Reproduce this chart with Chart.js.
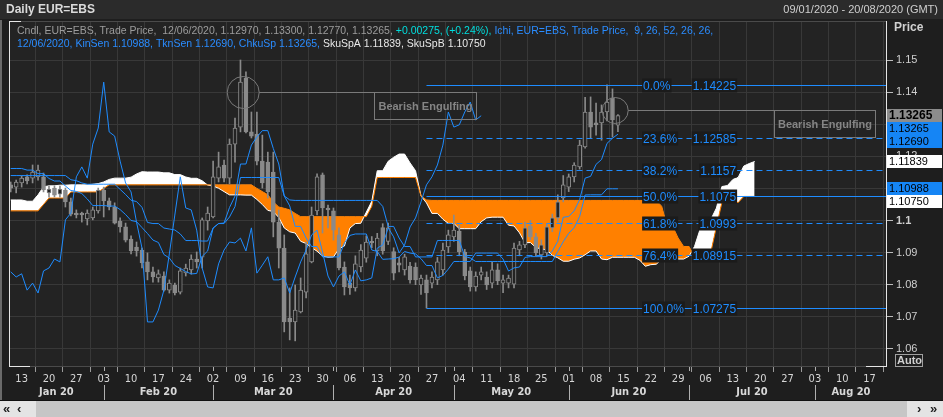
<!DOCTYPE html>
<html>
<head>
<meta charset="utf-8">
<script src="https://cdn.jsdelivr.net/npm/chart.js@4.4.1/dist/chart.umd.min.js"></script>
<style>
html, body { margin: 0; padding: 0; background: #1e1e1e; }
canvas { display: block; }
</style>
</head>
<body>
<canvas id="chart" width="943" height="417"></canvas>
<script>
// Daily EUR=EBS, 09/01/2020 - 20/08/2020, bar index 0 = 9 Jan 2020 (weekdays only)
var weekStarts = [2,7,12,17,22,27,32,37,42,47,52,57,62,67,72,77,82,87,92,97,102,107,112,117,122,127,132,137,142,147,152,157];
var weekLabels = ['13','20','27','03','10','17','24','02','09','16','23','30','06','13','20','27','04','11','18','25','01','08','15','22','29','06','13','20','27','03','10','17'];
var monthStarts = [17,37,59,81,102,124,147];
var monthLabels = ['Jan 20','Feb 20','Mar 20','Apr 20','May 20','Jun 20','Jul 20','Aug 20'];
var priceTicks = [1.06,1.07,1.08,1.09,1.10,1.11,1.12,1.13,1.14,1.15];

var opens = [1.1111,1.1104,1.1117,1.1136,1.1132,1.1136,1.1136,1.1086,1.1101,1.1082,
  1.1095,1.1058,1.1023,1.1023,1.1005,1.1008,1.1030,1.1095,1.1061,1.1042,
  1.0998,1.0980,1.0942,1.0917,1.0908,1.0871,1.0840,1.0821,1.0827,1.0783,
  1.0799,1.0777,1.0837,1.0846,1.0880,1.0886,1.0999,1.1011,1.1132,1.1173,
  1.1132,1.1238,1.1291,1.1444,1.1276,1.1269,1.1185,1.1182,1.1151,1.0995,
  1.0914,1.0696,1.0684,1.0715,1.0777,1.0871,1.1030,1.1142,1.1039,1.1030,
  1.0955,1.0855,1.0805,1.0790,1.0855,1.0883,1.0935,1.0905,1.0978,1.0935,
  1.0903,1.0868,1.0846,1.0858,1.0855,1.0799,1.0815,1.0805,1.0815,1.0846,
  1.0918,1.0949,1.0967,1.0902,1.0843,1.0793,1.0830,1.0824,1.0805,1.0846,
  1.0805,1.0805,1.0802,1.0908,1.0924,1.0983,1.0949,1.0893,1.0899,1.0977,
  1.1008,1.1070,1.1104,1.1136,1.1167,1.1229,1.1338,1.1304,1.1304,1.1338,
  1.1381,1.1297];
var highs = [1.1120,1.1126,1.1139,1.1142,1.1173,1.1173,1.1148,1.1107,1.1107,1.1107,
  1.1101,1.1070,1.1033,1.1026,1.1033,1.1042,1.1101,1.1104,1.1070,1.1055,
  1.1008,1.0992,1.0952,1.0933,1.0914,1.0899,1.0855,1.0846,1.0840,1.0815,
  1.0805,1.0852,1.0864,1.0893,1.0902,1.1008,1.1042,1.1185,1.1213,1.1188,
  1.1254,1.1319,1.1500,1.1463,1.1338,1.1338,1.1266,1.1213,1.1213,1.1033,
  1.0955,1.0790,1.0799,1.0821,1.0933,1.1042,1.1145,1.1148,1.1048,1.1039,
  1.0977,1.0871,1.0830,1.0890,1.0925,1.0952,1.0950,1.0960,1.0990,1.0992,
  1.0915,1.0885,1.0895,1.0870,1.0868,1.0830,1.0830,1.0840,1.0885,1.0930,
  1.0970,1.1017,1.0985,1.0910,1.0855,1.0840,1.0855,1.0840,1.0870,1.0865,
  1.0830,1.0830,1.0930,1.0935,1.0995,1.1000,1.0960,1.0940,1.0990,1.1020,
  1.1080,1.1140,1.1145,1.1180,1.1250,1.1384,1.1385,1.1366,1.1360,1.14225,
  1.1410,1.1330];
var lows = [1.1089,1.1086,1.1104,1.1114,1.1117,1.1126,1.1089,1.1073,1.1073,1.1073,
  1.1042,1.1014,1.1008,1.0995,1.0986,1.1002,1.1023,1.1011,1.1033,1.0989,
  1.0964,1.0933,1.0896,1.0889,1.0852,1.0815,1.0808,1.0808,1.0780,1.0774,
  1.0768,1.0771,1.0827,1.0833,1.0852,1.0852,1.0970,1.1008,1.1120,1.1120,
  1.1114,1.1182,1.1276,1.1273,1.1257,1.1173,1.1101,1.1070,1.0949,1.0852,
  1.0653,1.0628,1.0625,1.0712,1.0759,1.0868,1.1017,1.0961,1.0977,1.0939,
  1.0846,1.0768,1.0770,1.0780,1.0840,1.0870,1.0915,1.0890,1.0895,1.0925,
  1.0815,1.0840,1.0830,1.0805,1.0800,1.0770,1.07275,1.0790,1.0800,1.0830,
  1.0900,1.0935,1.0890,1.0815,1.0780,1.0780,1.0815,1.0785,1.0790,1.0800,
  1.0775,1.0790,1.0790,1.0890,1.0915,1.0940,1.0890,1.0880,1.0890,1.0965,
  1.0995,1.1058,1.1090,1.1120,1.1160,1.1225,1.1255,1.1266,1.1250,1.1310,
  1.1260,1.1277];
var closes = [1.1101,1.1120,1.1132,1.1123,1.1151,1.1157,1.1095,1.1098,1.1079,1.1098,
  1.1058,1.1020,1.1017,1.1017,1.1023,1.1033,1.1095,1.1061,1.1042,1.0992,
  1.0980,1.0939,1.0905,1.0905,1.0868,1.0840,1.0824,1.0834,1.0783,1.0805,
  1.0774,1.0843,1.0852,1.0880,1.0871,1.1002,1.1023,1.1136,1.1167,1.1132,
  1.1238,1.1288,1.1431,1.1276,1.1263,1.1185,1.1117,1.1089,1.0995,1.0914,
  1.0684,1.0684,1.0721,1.0783,1.0896,1.1017,1.1136,1.1039,1.1033,1.0970,
  1.0852,1.0793,1.0790,1.0865,1.0908,1.0933,1.0930,1.0945,1.0905,1.0977,
  1.0836,1.0861,1.0887,1.0815,1.0815,1.0821,1.0774,1.0824,1.0871,1.0908,
  1.0955,1.0970,1.0902,1.0827,1.0793,1.0827,1.0840,1.0799,1.0846,1.0812,
  1.0815,1.0821,1.0914,1.0924,1.0977,1.0949,1.0899,1.0924,1.0980,1.1008,
  1.1058,1.1111,1.1136,1.1173,1.1235,1.1338,1.1291,1.1298,1.1338,1.1369,
  1.1313,1.13265];

// Ichimoku (9, 26, 52, 26, 26) as drawn
var tenkan = [1.1162,1.1162,1.1162,1.1157,1.1157,1.1146,1.1146,1.1131,1.1123,1.1123,
  1.11075,1.10935,1.10905,1.1084,1.1067,1.10465,1.10465,1.10465,1.1045,1.1045,
  1.1034,1.10185,1.1000,1.09965,1.0978,1.09595,1.0939,1.09315,1.0894,1.0883,
  1.0860,1.08505,1.0841,1.08335,1.0835,1.0888,1.0905,1.09765,1.09905,1.0992,
  1.10405,1.1076,1.1176,1.1176,1.1235,1.1260,1.1280,1.1280,1.12245,1.1176,
  1.10765,1.10455,1.09815,1.09815,1.09455,1.0919,1.0919,1.08865,1.08865,1.08865,
  1.08865,1.0930,1.09535,1.0958,1.0958,1.0958,1.0908,1.09035,1.0879,1.0880,
  1.0881,1.0886,1.09035,1.08985,1.0896,1.0881,1.08598,1.08598,1.08213,1.08288,
  1.08488,1.08723,1.08723,1.08723,1.08723,1.08985,1.08985,1.08985,1.08985,1.08985,
  1.0880,1.08425,1.08525,1.0855,1.0885,1.08875,1.08875,1.08875,1.08875,1.0905,
  1.0935,1.1010,1.10125,1.1030,1.1065,1.1132,1.11375,1.1175,1.119,1.12403,
  1.12563,1.1269];
var kijun = [1.1140,1.1140,1.1140,1.1140,1.1140,1.1140,1.1140,1.1140,1.1140,1.1140,
  1.1140,1.1127,1.1124,1.1117,1.1113,1.1113,1.1113,1.1113,1.1113,1.1113,
  1.1097,1.1081,1.1063,1.1059,1.1041,1.0994,1.09905,1.09905,1.09765,1.09735,
  1.09705,1.0958,1.09375,1.09375,1.09375,1.0936,1.0936,1.09765,1.09905,1.09905,
  1.1011,1.10435,1.1134,1.1134,1.1134,1.1134,1.1134,1.1134,1.1134,1.1134,
  1.10765,1.1064,1.10625,1.10625,1.10625,1.10625,1.10625,1.10625,1.10625,1.10625,
  1.10625,1.10625,1.10625,1.10625,1.10625,1.10625,1.10625,1.10625,1.1044,1.09815,
  1.09815,1.09455,1.0919,1.0919,1.08865,1.08865,1.08865,1.08865,1.09378,1.09378,
  1.09378,1.09378,1.09378,1.08878,1.08833,1.08723,1.08723,1.08723,1.08723,1.08723,
  1.08723,1.08723,1.08723,1.08723,1.08723,1.08723,1.08723,1.08723,1.08723,1.08723,
  1.09038,1.09338,1.096,1.09775,1.10125,1.10795,1.108,1.108,1.108,1.10988,
  1.10988,1.10988];
var spanA = [1.1064,1.1064,1.1064,1.1060,1.1060,1.1080,1.1105,1.1108,1.1108,1.1110,
  1.1110,1.1111,1.1111,1.1111,1.1111,1.1113,1.1115,1.1120,1.1128,1.1132,
  1.1132,1.1132,1.1135,1.1145,1.1152,1.1151,1.1151,1.1151,1.11485,1.11485,
  1.1143,1.1143,1.11355,1.11315,1.11315,1.11238,1.11103,1.11073,1.11005,1.109,
  1.10798,1.10798,1.10798,1.1079,1.1079,1.10655,1.10498,1.10315,1.10278,1.10095,
  1.09768,1.09648,1.0961,1.09353,1.09283,1.09153,1.09043,1.08893,1.08855,1.08863,
  1.0912,1.09205,1.09765,1.09905,1.09913,1.10258,1.10598,1.1155,1.1155,1.11845,
  1.1197,1.1207,1.1207,1.11793,1.1155,1.10765,1.10548,1.1022,1.1022,1.1004,
  1.09908,1.09908,1.09745,1.09745,1.09745,1.09745,1.09963,1.1008,1.10103,1.10103,
  1.10103,1.09853,1.0983,1.09615,1.09308,1.09313,1.09158,1.09113,1.09088,1.08913,
  1.08838,1.08731,1.08731,1.08795,1.08833,1.08933,1.0905,1.0905,1.088,1.08778,
  1.08854,1.08854,1.08854,1.08854,1.08854,1.08762,1.08574,1.08624,1.08637,1.08787,
  1.08799,1.08799,1.08799,1.08799,1.08887,1.09194,1.09719,1.09863,1.10038,1.10388,
  1.11058,1.11088,1.11275,1.1135,1.11695,1.11775,1.11839];
var spanB = [1.1030,1.1030,1.1030,1.1030,1.1030,1.1030,1.1050,1.1070,1.1070,1.1070,
  1.1070,1.1089,1.1089,1.1089,1.1089,1.1089,1.1089,1.1100,1.1111,1.1111,
  1.1111,1.1111,1.1111,1.1111,1.1111,1.1111,1.1111,1.1111,1.1111,1.1111,
  1.1111,1.1111,1.1111,1.1111,1.1111,1.1111,1.1111,1.1111,1.1111,1.1111,
  1.1111,1.1111,1.1111,1.1111,1.1111,1.1100,1.1090,1.1080,1.1058,1.1042,
  1.1038,1.1033,1.1022,1.1012,1.1012,1.1012,1.1012,1.1012,1.1012,1.1012,
  1.1012,1.1012,1.1012,1.1012,1.1012,1.1012,1.1044,1.1134,1.1134,1.1134,
  1.1134,1.1134,1.1134,1.1134,1.1134,1.10765,1.1064,1.10625,1.10625,1.10625,
  1.10625,1.10625,1.10625,1.10625,1.10625,1.10625,1.10625,1.10625,1.10625,1.10625,
  1.10625,1.10625,1.10625,1.10625,1.10625,1.10625,1.10625,1.10625,1.10625,1.10625,
  1.10625,1.10625,1.10625,1.10625,1.10625,1.10625,1.10625,1.10625,1.10625,1.10625,
  1.10625,1.10625,1.10625,1.10625,1.10625,1.10625,1.10625,1.10625,1.10625,1.1044,
  1.09815,1.09815,1.09455,1.0919,1.0919,1.08865,1.08865,1.08865,1.09025,1.0981,
  1.10558,1.10563,1.10563,1.10563,1.1075,1.1075,1.1075];
var chikouShift = 25;

// Fibonacci retracement, 100% low to 0% high
var fibPcts = ['0.0%','23.6%','38.2%','50.0%','61.8%','76.4%','100.0%'];
var fibLevels = [1.14225,1.12585,1.1157,1.1075,1.0993,1.08915,1.07275];
var fibDashed = [false,true,true,false,true,true,false];
var fibStartBar = 76;

// candle patterns
var patternBars = [42.5, 110.5];
var patternPrices = [1.1401, 1.1344];
var patternNames = ['Bearish Engulfing', 'Bearish Engulfing'];

var lastDate = '12/06/2020';
var lastChange = '+0.00275, (+0.24%), ';

var plotBg = '#232323';
var gridColor = '#383838';
var candleGray = '#8a8a8a';
var lineBlue = '#1e8cff';
var tagBlue = '#1585f5';
var cloudOrange = '#ff8000';
var fontFamily = "'Liberation Sans', Arial, sans-serif";
var narrowFamily = "'Liberation Sans Narrow', 'DejaVu Sans Condensed', 'Liberation Sans', sans-serif";

var last = closes.length - 1;

function pts(arr, shift) {
  return arr.map(function (v, i) { return { x: i - (shift || 0), y: v }; });
}

function drawRuns(c, x, y, parts) {
  parts.forEach(function (p) {
    c.fillStyle = p[1];
    c.fillText(p[0], x, y);
    x += c.measureText(p[0]).width;
  });
}

var decor = {
  id: 'decor',
  beforeDraw: function (chart) {
    var c = chart.ctx, a = chart.chartArea;
    c.save();
    c.fillStyle = '#1e1e1e';
    c.fillRect(0, 0, chart.width, chart.height);
    c.fillStyle = '#2b2b2b';
    c.fillRect(0, 0, chart.width, 19);
    c.fillStyle = plotBg;
    c.fillRect(a.left, a.top, a.right - a.left, a.bottom - a.top);
    c.restore();
  },
  afterDatasetsDraw: function (chart) {
    var c = chart.ctx, a = chart.chartArea, xs = chart.scales.x, ys = chart.scales.y;
    c.save();
    c.beginPath();
    c.rect(a.left, a.top, a.right - a.left, a.bottom - a.top);
    c.clip();

    // fibonacci lines
    var fx0 = xs.getPixelForValue(fibStartBar);
    c.lineWidth = 1;
    c.strokeStyle = lineBlue;
    fibLevels.forEach(function (v, k) {
      var y = Math.round(ys.getPixelForValue(v)) + 0.5;
      c.setLineDash(fibDashed[k] ? [6, 4] : []);
      c.beginPath();
      c.moveTo(fx0, y);
      c.lineTo(a.right, y);
      c.stroke();
    });
    c.setLineDash([]);
    c.font = '12px ' + fontFamily;
    c.textBaseline = 'middle';
    var lx = xs.getPixelForValue(115.6);
    fibLevels.forEach(function (v, k) {
      var y = Math.round(ys.getPixelForValue(v)) + 0.5;
      var t1 = fibPcts[k], t2 = String(v);
      var w1 = c.measureText(t1).width, w2 = c.measureText(t2).width;
      c.fillStyle = '#1b1b1b';
      c.fillRect(lx - 1, y - 7, w1 + 2, 14);
      c.fillRect(lx + 93 - w2 - 1, y - 7, w2 + 2, 14);
      c.fillStyle = lineBlue;
      c.textAlign = 'left';
      c.fillText(t1, lx, y + 1);
      c.textAlign = 'right';
      c.fillText(t2, lx + 93, y + 1);
    });

    // pattern notes
    var boxFrom = [66.4, 139.5], boxTo = [85.1, 158], radius = [16, 13];
    c.strokeStyle = '#7a7a7a';
    c.lineWidth = 1;
    patternBars.forEach(function (b, k) {
      var cx = xs.getPixelForValue(b), cy = Math.round(ys.getPixelForValue(patternPrices[k])) + 0.5;
      var bx0 = Math.round(xs.getPixelForValue(boxFrom[k])) + 0.5, bx1 = Math.round(xs.getPixelForValue(boxTo[k])) + 0.5;
      c.beginPath();
      c.arc(cx, cy, radius[k], 0, Math.PI * 2);
      c.stroke();
      c.beginPath();
      c.moveTo(cx + radius[k], cy);
      c.lineTo(bx0, cy);
      c.stroke();
      c.strokeRect(bx0, cy, bx1 - bx0, 27);
      c.font = 'bold 11px ' + fontFamily;
      c.textAlign = 'center';
      c.fillStyle = '#858585';
      c.fillText(patternNames[k], (bx0 + bx1) / 2, cy + 14);
    });
    c.restore();
  },
  afterDraw: function (chart) {
    var c = chart.ctx, a = chart.chartArea, xs = chart.scales.x, ys = chart.scales.y, W = chart.width;
    c.save();

    // plot frame
    c.lineWidth = 1;
    c.strokeStyle = '#4a4a4a';
    c.beginPath();
    c.moveTo(a.left, a.top + 0.5); c.lineTo(a.right, a.top + 0.5);
    c.moveTo(a.left, a.bottom - 0.5); c.lineTo(a.right, a.bottom - 0.5);
    c.stroke();
    c.strokeStyle = '#e6e6e6';
    c.beginPath();
    c.moveTo(a.left + 0.5, a.top); c.lineTo(a.left + 0.5, a.bottom);
    c.moveTo(a.right - 0.5, a.top); c.lineTo(a.right - 0.5, a.bottom);
    c.moveTo(a.left, a.top + 0.5); c.lineTo(a.left + 12, a.top + 0.5);
    c.moveTo(a.left, a.bottom - 0.5); c.lineTo(a.left + 21, a.bottom - 0.5);
    c.moveTo(a.right - 21, a.bottom - 0.5); c.lineTo(a.right, a.bottom - 0.5);
    c.stroke();
    c.fillStyle = '#6a6a6a';
    c.fillRect(0, 20, 2, 380);

    // legend text
    c.font = '10.5px ' + fontFamily;
    c.textAlign = 'left';
    c.textBaseline = 'middle';
    var ohlc = [opens, highs, lows, closes].map(function (s) { return s[last].toFixed(5); }).join(', ');
    drawRuns(c, 17, 31, [
      ['Cndl, EUR=EBS, Trade Price,  ' + lastDate + ', ' + ohlc + ', ', '#9c9c9c'],
      [lastChange, '#00dede'],
      ['Ichi, EUR=EBS, Trade Price,  9, 26, 52, 26, 26,', '#2a8cff']
    ]);
    drawRuns(c, 17, 44, [
      [lastDate + ', KinSen ' + kijun[last].toFixed(5) + ', TknSen ' + tenkan[last].toFixed(5) + ', ChkuSp ' + closes[last].toFixed(5) + ', ', '#2a8cff'],
      ['SkuSpA ' + spanA[spanA.length - 1].toFixed(5) + ', SkuSpB ' + spanB[spanB.length - 1].toFixed(5), '#e8e8e8']
    ]);

    // value tags on the price axis
    var tags = [
      { v: closes[last], bg: '#8c8c8c', bold: true },
      { v: closes[last], bg: tagBlue },
      { v: tenkan[last], bg: tagBlue },
      { v: spanA[spanA.length - 1], bg: '#ffffff' },
      { v: kijun[last], bg: tagBlue },
      { v: spanB[spanB.length - 1], bg: '#ffffff' }
    ];
    var prev = -1e9;
    tags.forEach(function (t) {
      var top = Math.max(Math.round(ys.getPixelForValue(t.v) - 6.5), prev);
      c.fillStyle = t.bg;
      c.fillRect(a.right, top, W - a.right - 1, 13);
      c.fillStyle = '#000000';
      c.font = (t.bold ? 'bold 12px ' : '11px ') + fontFamily;
      c.fillText(t.v.toFixed(5), a.right + 2, top + 7);
      prev = top + 13;
    });

    c.fillStyle = '#d0d0d0';
    c.font = 'bold 12px ' + fontFamily;
    c.fillText('Price', a.right + 7, 28);
    c.strokeStyle = '#a0a0a0';
    c.strokeRect(a.right + 8.5, 354.5, 27, 12);
    c.font = 'bold 11px ' + fontFamily;
    c.fillText('Auto', a.right + 10, 361);

    // months row
    var edges = [a.left].concat(monthStarts.map(function (m) { return xs.getPixelForValue(m); })).concat([a.right]);
    c.strokeStyle = '#b0b0b0';
    c.beginPath();
    monthStarts.forEach(function (m) {
      var x = Math.round(xs.getPixelForValue(m)) + 0.5;
      c.moveTo(x, a.bottom); c.lineTo(x, a.bottom + 4);
      c.moveTo(x, 385); c.lineTo(x, 400);
    });
    c.stroke();
    c.font = 'bold 11px ' + narrowFamily;
    c.textAlign = 'center';
    c.fillStyle = '#d8d8d8';
    monthLabels.forEach(function (t, k) {
      c.fillText(t, (edges[k] + edges[k + 1]) / 2, 392);
    });

    // title bar
    c.textAlign = 'left';
    c.font = 'bold 12px ' + fontFamily;
    c.fillStyle = '#dadada';
    c.fillText('Daily EUR=EBS', 6, 10);
    c.textAlign = 'right';
    c.font = '11px ' + fontFamily;
    c.fillStyle = '#cfcfcf';
    c.fillText('09/01/2020 - 20/08/2020 (GMT)', W - 5, 10);

    // scroll bar
    c.fillStyle = '#111111';
    c.fillRect(0, 400, W, 1);
    c.fillStyle = '#c6c6c6';
    c.fillRect(0, 401, W, 16);
    c.fillStyle = '#e4e4e4';
    c.fillRect(0, 401, 36, 16);
    c.fillRect(W - 36, 401, 36, 16);
    c.fillStyle = '#222222';
    c.font = 'bold 13px ' + fontFamily;
    c.textAlign = 'left';
    c.fillText('\u00ab', 3, 409);
    c.fillText('\u2039', 17, 409);
    c.fillText('\u203a', W - 26, 409);
    c.fillText('\u00bb', W - 13, 409);
    c.restore();
  }
};

new Chart(document.getElementById('chart').getContext('2d'), {
  type: 'line',
  data: {
    datasets: [
      { type: 'line', label: 'SkuSpA', data: pts(spanA), borderColor: '#ffffff', borderWidth: 1, pointRadius: 0,
        fill: { target: '+1', above: '#ffffff', below: cloudOrange }, order: 10 },
      { type: 'line', label: 'SkuSpB', data: pts(spanB), borderColor: cloudOrange, borderWidth: 1, pointRadius: 0, fill: false, order: 9 },
      { type: 'bar', label: 'wick', data: lows.map(function (v, i) { return { x: i, y: [v, highs[i]] }; }),
        backgroundColor: candleGray, barThickness: 1, grouped: false, order: 6 },
      { type: 'bar', label: 'body', data: opens.map(function (v, i) { return { x: i, y: [v, closes[i]] }; }),
        backgroundColor: function (ctx) { var i = ctx.dataIndex; return closes[i] >= opens[i] ? plotBg : candleGray; },
        borderColor: candleGray, borderWidth: 1, borderSkipped: false, barThickness: 4, minBarLength: 1, grouped: false, order: 5 },
      { type: 'line', label: 'ChkuSp', data: pts(closes, chikouShift).slice(chikouShift), borderColor: lineBlue, borderWidth: 1, pointRadius: 0, order: 3 },
      { type: 'line', label: 'KinSen', data: pts(kijun), borderColor: lineBlue, borderWidth: 1, pointRadius: 0, order: 2 },
      { type: 'line', label: 'TknSen', data: pts(tenkan), borderColor: lineBlue, borderWidth: 1, pointRadius: 0, order: 1 }
    ]
  },
  options: {
    responsive: false,
    animation: false,
    events: [],
    layout: { padding: { left: 9, top: 21, right: 0, bottom: 0 } },
    elements: { line: { tension: 0 } },
    plugins: { legend: { display: false }, tooltip: { enabled: false }, filler: { propagate: false } },
    scales: {
      x: {
        type: 'linear', min: -0.311, max: 160.18, offset: false,
        afterBuildTicks: function (s) { s.ticks = weekStarts.map(function (v) { return { value: v }; }); },
        afterFit: function (s) { s.height = 50; },
        grid: { color: gridColor, tickLength: 5, tickColor: '#9a9a9a' },
        border: { display: false },
        ticks: { autoSkip: false, maxRotation: 0, padding: 1, color: '#d6d6d6',
          font: { family: narrowFamily, size: 11 },
          callback: function (v, k) { return weekLabels[k]; } }
      },
      y: {
        type: 'linear', position: 'right', min: 1.05436, max: 1.16215,
        afterBuildTicks: function (s) { s.ticks = priceTicks.map(function (v) { return { value: v }; }); },
        afterFit: function (s) { s.width = 56; },
        grid: { color: gridColor, tickLength: 6, tickColor: '#bdbdbd' },
        border: { display: false },
        ticks: { padding: 3, color: '#cfcfcf',
          font: function (ctx) { return { family: fontFamily, size: 11, weight: (ctx.tick && Math.abs(ctx.tick.value - 1.1) < 1e-9) ? 'bold' : 'normal' }; },
          callback: function (v) { return String(Math.round(v * 100) / 100); } }
      }
    }
  },
  plugins: [decor]
});
</script>
</body>
</html>
